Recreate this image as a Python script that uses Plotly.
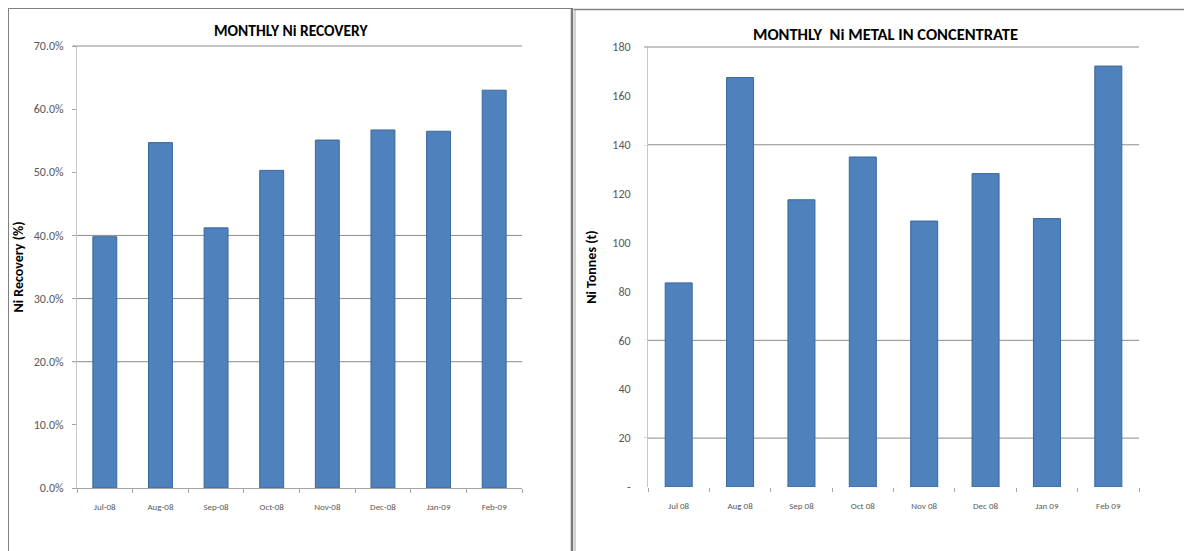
import plotly.graph_objects as go

W, H = 1184, 551

# Monthly nickel recovery (fraction) and nickel metal in concentrate (tonnes)
recovery_months = ["Jul-08", "Aug-08", "Sep-08", "Oct-08", "Nov-08", "Dec-08", "Jan-09", "Feb-09"]
recovery_values = [0.398, 0.547, 0.412, 0.503, 0.551, 0.567, 0.565, 0.630]

tonnes_months = ["Jul 08", "Aug 08", "Sep 08", "Oct 08", "Nov 08", "Dec 08", "Jan 09", "Feb 09"]
tonnes_values = [83.5, 167.5, 117.5, 135.0, 108.8, 128.2, 109.8, 172.2]

recovery_ticks = [0.0, 0.1, 0.2, 0.3, 0.4, 0.5, 0.6, 0.7]
recovery_grid = [0.2, 0.3, 0.4]
tonnes_ticks = [0, 20, 40, 60, 80, 100, 120, 140, 160, 180]
tonnes_ticktext = ["-", "20", "40", "60", "80", "100", "120", "140", "160", "180"]
tonnes_grid = [20, 60, 140]

BAR = "#4f81bd"
BAR_EDGE = "#3a679c"
FONT = "Carlito, Calibri, Lato, sans-serif"

# plot areas in pixels (left, right, top, bottom)
L1 = (77, 522, 46, 488)
L2 = (648, 1139, 47, 487)


def px(x):
    return x / W


def py(y):
    return 1 - y / H


fig = go.Figure()
fig.add_trace(go.Bar(x=recovery_months, y=recovery_values, xaxis="x", yaxis="y",
                     marker=dict(color=BAR, line=dict(color=BAR_EDGE, width=1)),
                     width=0.43, showlegend=False))
fig.add_trace(go.Bar(x=tonnes_months, y=tonnes_values, xaxis="x2", yaxis="y2",
                     marker=dict(color=BAR, line=dict(color=BAR_EDGE, width=1)),
                     width=0.44, showlegend=False))

tickfont_y = dict(family=FONT, size=12, color="#595959")
tickfont_x = dict(family=FONT, size=9, color="#595959")

fig.update_layout(
    width=W, height=H, margin=dict(l=0, r=0, t=0, b=0, autoexpand=False),
    paper_bgcolor="white", plot_bgcolor="white",
    xaxis=dict(domain=[px(L1[0]), px(L1[1])], anchor="y", showgrid=False, automargin=False,
               showline=True, linecolor="#a6a6a6", linewidth=1,
               ticks="outside", ticklen=4, tickcolor="#a6a6a6", tickson="boundaries",
               tickfont=tickfont_x, ticklabelstandoff=10),
    yaxis=dict(domain=[py(L1[3]), py(L1[2])], anchor="x", range=[0, 0.7], automargin=False,
               tickvals=recovery_ticks, tickformat=".1%", showgrid=False,
               zeroline=False, showline=True, linecolor="#c8c8c8", linewidth=1,
               ticks="outside", ticklen=4, tickcolor="#a6a6a6",
               tickfont=tickfont_y, ticklabelstandoff=6,
               title=dict(text="<b>Ni Recovery (%)</b>", standoff=6,
                          font=dict(family=FONT, size=14, color="#000000"))),
    xaxis2=dict(domain=[px(L2[0]), px(L2[1])], anchor="y2", showgrid=False, automargin=False,
                showline=False, ticks="outside", ticklen=4, tickcolor="#a6a6a6",
                tickson="boundaries", tickfont=tickfont_x, ticklabelstandoff=12),
    yaxis2=dict(domain=[py(L2[3]), py(L2[2])], anchor="x2", range=[0, 180], automargin=False,
                tickvals=tonnes_ticks, ticktext=tonnes_ticktext, showgrid=False,
                zeroline=False, showline=True, linecolor="#c8c8c8", linewidth=1,
                ticks="outside", ticklen=4, tickcolor="#ffffff",
                tickfont=tickfont_y, ticklabelstandoff=10,
                title=dict(text="<b>Ni Tonnes (t)</b>", standoff=12,
                           font=dict(family=FONT, size=14, color="#000000"))),
)

GRID = dict(color="#8c8c8c", width=1)
shapes = []
# Horizontal gridlines
for v in recovery_grid:
    shapes.append(dict(type="line", xref="paper", yref="y", x0=px(L1[0] - 4), x1=px(L1[1]),
                       y0=v, y1=v, line=GRID, layer="below"))
for v in tonnes_grid:
    shapes.append(dict(type="line", xref="paper", yref="y2", x0=px(L2[0] - 4), x1=px(L2[1]),
                       y0=v, y1=v, line=GRID, layer="below"))
# top gridline of each chart sits on the plot-area edge
shapes.append(dict(type="line", xref="paper", yref="paper", x0=px(L1[0] - 4), x1=px(L1[1]),
                   y0=py(L1[2]), y1=py(L1[2]), line=GRID))
shapes.append(dict(type="line", xref="paper", yref="paper", x0=px(L2[0] - 4), x1=px(L2[1]),
                   y0=py(L2[2]), y1=py(L2[2]), line=GRID))

# Panel frames
shapes += [
    dict(type="line", xref="paper", yref="paper", x0=px(8.5), x1=px(8.5), y0=py(8), y1=py(560),
         line=dict(color="#808080", width=1)),
    dict(type="line", xref="paper", yref="paper", x0=px(8), x1=px(572), y0=py(8.5), y1=py(8.5),
         line=dict(color="#808080", width=1)),
    dict(type="line", xref="paper", yref="paper", x0=px(572), x1=px(572), y0=py(8), y1=py(560),
         line=dict(color="#7a7a7a", width=2.5)),
    dict(type="line", xref="paper", yref="paper", x0=px(575), x1=px(575), y0=py(9), y1=py(560),
         line=dict(color="#c4c4c4", width=1.5)),
    dict(type="line", xref="paper", yref="paper", x0=px(574), x1=px(1184), y0=py(9.5), y1=py(9.5),
         line=dict(color="#808080", width=1.5)),
]
fig.update_layout(shapes=shapes)

fig.add_annotation(text="<b>MONTHLY Ni RECOVERY</b>", xref="paper", yref="paper",
                   x=px(291), y=py(31), showarrow=False, xanchor="center", yanchor="middle",
                   font=dict(family=FONT, size=15.5, color="#000000"))
fig.add_annotation(text="<b>MONTHLY  Ni METAL IN CONCENTRATE</b>", xref="paper", yref="paper",
                   x=px(885), y=py(34), showarrow=False, xanchor="center", yanchor="middle",
                   font=dict(family=FONT, size=16.5, color="#000000"))

fig.write_html("out.html")
